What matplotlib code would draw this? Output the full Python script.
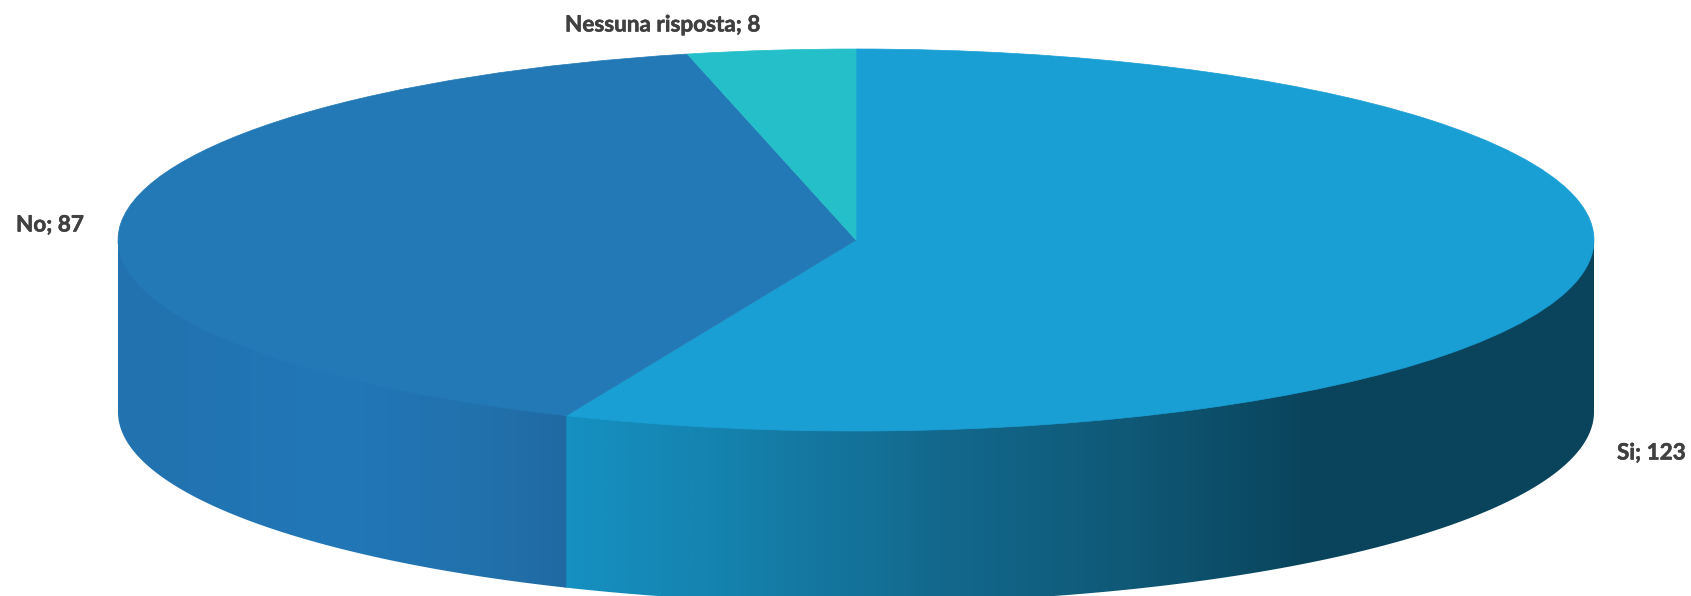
import numpy as np
import matplotlib
matplotlib.use('Agg')
from matplotlib import pyplot as plt
from matplotlib import patheffects
from matplotlib.colors import LinearSegmentedColormap
from matplotlib.patches import Polygon

labels = ['Si', 'No', 'Nessuna risposta']
values = [123, 87, 8]
top_colors = ['#1A9FD5', '#2379B5', '#25BFC9']

W, H = 1691, 596
cx, cy = 856, 240      # centre of the top ellipse, pixels
rx, ry = 738, 191      # ellipse radii, pixels
depth = 172 / ry       # wall height in pie units

fig = plt.figure(figsize=(W / 100, H / 100), dpi=100)
ax = fig.add_axes([0, 0, 1, 1])

# one pie unit is rx pixels across and ry pixels down, so the circle flattens
wedges, _ = ax.pie(values, colors=top_colors, startangle=90, counterclock=False, radius=1,
                   center=(0, 0), frame=False)
for w, c in zip(wedges, top_colors):
    w.set_zorder(3)
    w.set_edgecolor(c)
    w.set_linewidth(0.5)
ax.set_aspect('auto')
xlim = (-cx / rx, (W - cx) / rx)
ylim = ((cy - H) / ry, cy / ry)
ax.axis('off')

# clockwise angle from the top where each slice ends
ends = np.cumsum(values) / np.sum(values) * 2 * np.pi
starts = np.r_[0, ends[:-1]]


def side_wall(a0, a1, stops, overlap=0.0):
    # outer wall of a slice, only the part facing the viewer
    a0, a1 = max(a0, np.pi / 2), min(a1, 3 * np.pi / 2)
    if a0 >= a1:
        return
    t = np.linspace(a0, a1, 300)
    x, y = np.sin(t), np.cos(t)
    # gradient runs left to right across the wall
    left, right = min(x[0], x[-1]), max(x[0], x[-1])
    # overlap pushes the far end under the next wall to hide the seam
    tb = np.linspace(a0, a1 + overlap, 300)
    xb, yb = np.sin(tb), np.cos(tb)
    # upper edge runs a little inside the rim, the top wedges cover it
    pts = np.c_[np.r_[xb[0], xb * 0.98, xb[-1], xb[::-1]],
                np.r_[yb[0], yb * 0.98, yb[-1], yb[::-1] - depth]]
    clip = Polygon(pts, closed=True, transform=ax.transData, fc='none', ec='none')
    ax.add_patch(clip)
    cmap = LinearSegmentedColormap.from_list('wall', stops)
    grad = np.linspace(0, 1, 512).reshape(1, -1)
    im = ax.imshow(grad, cmap=cmap, aspect='auto', zorder=2, interpolation='bilinear',
                   extent=(left - 0.01, right + 0.01, yb.min() - depth, yb.max()))
    im.set_clip_path(clip)


si_wall = [(0, '#1591C2'), (0.15, '#1583AF'), (0.35, '#136A8F'), (0.55, '#0F5876'),
           (0.72, '#0A445C'), (1, '#0A445C')]
no_wall = [(0, '#2272AE'), (0.5, '#2177B7'), (0.8, '#2271AC'), (1, '#2069A3')]
side_wall(starts[0], ends[0], si_wall, overlap=0.003)
side_wall(starts[1], ends[1], no_wall)
ax.set_xlim(xlim)
ax.set_ylim(ylim)

# value labels, positioned in pixels from the top left corner
label_pos = [(1617, 453), (16, 225), (565, 25)]
for name, val, (px, py) in zip(labels, values, label_pos):
    t = fig.text(px / W, 1 - py / H, f'{name}; {val}', ha='left', va='center',
                 family='Lato', weight='bold', fontsize=16.2, color='#404040')
    t.set_path_effects([patheffects.withStroke(linewidth=0.4, foreground='#404040')])

fig.savefig('out.png', dpi=100, facecolor='white')
